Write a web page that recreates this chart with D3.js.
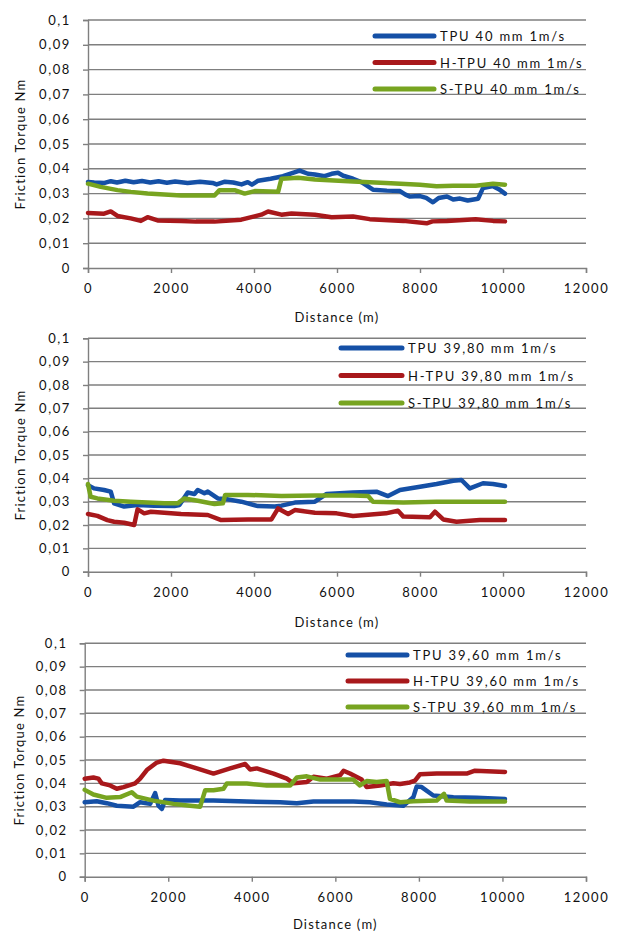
<!DOCTYPE html>
<html>
<head>
<meta charset="utf-8">
<script src="https://cdn.jsdelivr.net/npm/d3@7"></script>
<style>
  html, body { margin: 0; padding: 0; background: #fff; }
  svg text { font-family: Lato, "Open Sans", sans-serif; fill: #111; }
</style>
</head>
<body>
<svg id="chart" width="620" height="932"></svg>
<script>
// Friction torque vs sliding distance for three shaft diameters.
// Each series is a list of [distance (m), torque (Nm)] readings.

const xTicks = [0, 2000, 4000, 6000, 8000, 10000, 12000];
const yTicks = [0, 0.01, 0.02, 0.03, 0.04, 0.05, 0.06, 0.07, 0.08, 0.09, 0.1];
const seriesColors = ["#1550a6", "#a8181b", "#77a420"];
const xTitle = "Distance (m)";
const yTitle = "Friction Torque Nm";

// ---- 40 mm ----
const names40 = ["TPU 40 mm 1m/s", "H-TPU 40 mm 1m/s", "S-TPU 40 mm 1m/s"];
const tpu40 = [[0,0.0347],[150,0.0345],[400,0.0343],[550,0.0350],[700,0.0345],[900,0.0352],[1100,0.0346],[1300,0.0351],[1500,0.0345],[1700,0.0350],[1900,0.0344],[2100,0.0349],[2400,0.0343],[2700,0.0348],[3000,0.0343],[3100,0.0337],[3300,0.0348],[3500,0.0345],[3700,0.0337],[3850,0.0346],[3950,0.0336],[4100,0.0352],[4400,0.0360],[4700,0.0370],[4900,0.0382],[5100,0.0393],[5300,0.0380],[5468,0.0377],[5700,0.0370],[5871,0.0380],[6024,0.0384],[6150,0.0372],[6386,0.0360],[6600,0.0345],[6867,0.0316],[7200,0.0312],[7518,0.0310],[7650,0.0296],[7760,0.0288],[8000,0.0290],[8150,0.0283],[8313,0.0265],[8450,0.0282],[8650,0.0288],[8800,0.0276],[8964,0.0280],[9150,0.0272],[9398,0.0279],[9518,0.0322],[9759,0.0330],[9900,0.0318],[10048,0.0300]];
const htpu40 = [[0,0.0222],[387,0.0219],[548,0.0228],[710,0.0210],[1032,0.0200],[1274,0.0190],[1435,0.0205],[1677,0.0192],[2242,0.0190],[2600,0.0187],[3048,0.0187],[3693,0.0195],[4177,0.0215],[4339,0.0228],[4661,0.0215],[4903,0.0220],[5468,0.0215],[5871,0.0205],[6386,0.0208],[6788,0.0197],[7598,0.0190],[8160,0.0180],[8300,0.0188],[8650,0.0190],[9340,0.0197],[9759,0.0190],[10048,0.0188]];
const stpu40 = [[0,0.0340],[306,0.0327],[710,0.0314],[1032,0.0307],[1435,0.0300],[1839,0.0296],[2242,0.0292],[3048,0.0292],[3169,0.0314],[3532,0.0314],[3774,0.0300],[4016,0.0310],[4581,0.0307],[4661,0.0360],[5065,0.0364],[5468,0.0357],[6386,0.0349],[7180,0.0343],[8000,0.0336],[8400,0.0330],[8800,0.0332],[9340,0.0332],[9759,0.0340],[10048,0.0336]];

// ---- 39,80 mm ----
const names3980 = ["TPU 39,80 mm 1m/s", "H-TPU 39,80 mm 1m/s", "S-TPU 39,80 mm 1m/s"];
const tpu3980 = [[0,0.0371],[145,0.0357],[387,0.0350],[548,0.0343],[629,0.0293],[871,0.0279],[1194,0.0286],[1597,0.0283],[2081,0.0281],[2202,0.0286],[2403,0.0339],[2565,0.0333],[2645,0.0350],[2806,0.0336],[2887,0.0343],[3129,0.0314],[3371,0.0310],[3694,0.0300],[4097,0.0281],[4500,0.0279],[4661,0.0283],[4984,0.0296],[5468,0.0300],[5750,0.0333],[6386,0.0339],[6950,0.0343],[7230,0.0324],[7518,0.0350],[8000,0.0364],[8400,0.0376],[8800,0.0390],[9000,0.0393],[9200,0.0357],[9518,0.0379],[9759,0.0376],[10048,0.0367]];
const htpu3980 = [[0,0.0247],[226,0.0239],[467,0.0221],[629,0.0214],[871,0.0210],[1113,0.0200],[1194,0.0267],[1355,0.0250],[1516,0.0257],[2242,0.0247],[2887,0.0243],[3210,0.0221],[3855,0.0224],[4420,0.0224],[4581,0.0271],[4823,0.0247],[4984,0.0264],[5468,0.0253],[5990,0.0250],[6386,0.0239],[7180,0.0250],[7470,0.0261],[7598,0.0236],[8240,0.0233],[8360,0.0257],[8560,0.0224],[8880,0.0214],[9440,0.0221],[10048,0.0221]];
const stpu3980 = [[0,0.0376],[64,0.0321],[226,0.0314],[629,0.0304],[1032,0.0300],[1435,0.0297],[1839,0.0293],[2161,0.0293],[2323,0.0314],[2645,0.0304],[3048,0.0290],[3250,0.0293],[3306,0.0329],[3855,0.0329],[4661,0.0324],[5468,0.0326],[6386,0.0327],[6750,0.0324],[6867,0.0300],[7598,0.0297],[8400,0.0300],[9200,0.0300],[10048,0.0300]];

// ---- 39,60 mm ----
const names3960 = ["TPU 39,60 mm 1m/s", "H-TPU 39,60 mm 1m/s", "S-TPU 39,60 mm 1m/s"];
const tpu3960 = [[0,0.0319],[288,0.0323],[528,0.0315],[768,0.0304],[1167,0.0300],[1327,0.0319],[1567,0.0312],[1686,0.0358],[1766,0.0304],[1846,0.0290],[1926,0.0329],[2285,0.0326],[3083,0.0326],[3881,0.0322],[4679,0.0319],[5078,0.0315],[5477,0.0322],[6430,0.0322],[6829,0.0319],[7228,0.0309],[7627,0.0304],[7866,0.0340],[7946,0.0386],[8066,0.0384],[8345,0.0348],[8824,0.0340],[9383,0.0338],[10061,0.0333]];
const htpu3960 = [[0,0.0420],[208,0.0425],[328,0.0420],[408,0.0400],[608,0.0391],[768,0.0377],[928,0.0384],[1207,0.0400],[1327,0.0420],[1487,0.0457],[1726,0.0489],[1886,0.0497],[2285,0.0486],[2684,0.0464],[3083,0.0442],[3482,0.0464],[3841,0.0483],[3961,0.0459],[4120,0.0464],[4520,0.0442],[4839,0.0420],[4999,0.0400],[5318,0.0406],[5477,0.0428],[5797,0.0420],[6116,0.0435],[6196,0.0454],[6350,0.0442],[6629,0.0416],[6749,0.0384],[7068,0.0391],[7387,0.0400],[7547,0.0397],[7786,0.0404],[7906,0.0412],[8026,0.0439],[8425,0.0442],[8824,0.0442],[9143,0.0442],[9343,0.0454],[10061,0.0449]];
const stpu3960 = [[0,0.0372],[208,0.0352],[528,0.0338],[848,0.0341],[1127,0.0362],[1247,0.0343],[1646,0.0326],[2125,0.0312],[2524,0.0304],[2764,0.0300],[2883,0.0370],[3083,0.0370],[3322,0.0377],[3402,0.0399],[3881,0.0399],[4360,0.0391],[4919,0.0391],[5078,0.0425],[5318,0.0430],[5637,0.0416],[6430,0.0416],[6589,0.0391],[6749,0.0410],[6988,0.0406],[7228,0.0410],[7308,0.0333],[7547,0.0319],[7866,0.0323],[8425,0.0326],[8600,0.0355],[8664,0.0326],[9223,0.0322],[10061,0.0322]];

const svg = d3.select("#chart");

function drawPanel(cfg) {
  const x = d3.scaleLinear().domain([0, 12000]).range([cfg.left, cfg.right]);
  const y = d3.scaleLinear().domain([0, 0.1]).range([cfg.bottom, cfg.top]);
  const g = svg.append("g");

  // horizontal gridlines
  g.selectAll("line.grid").data(yTicks.slice(1)).join("line")
    .attr("x1", cfg.left).attr("x2", cfg.right)
    .attr("y1", d => y(d)).attr("y2", d => y(d))
    .attr("stroke", "#7f7f7f").attr("stroke-width", 1.4);

  const fmt = d => String(+d.toFixed(2)).replace(".", ",");

  const yAxis = g.append("g").attr("transform", `translate(${cfg.left},0)`)
    .call(d3.axisLeft(y).tickValues(yTicks).tickFormat(fmt).tickSize(5).tickPadding(12));
  const xAxis = g.append("g").attr("transform", `translate(0,${cfg.bottom})`)
    .call(d3.axisBottom(x).tickValues(xTicks).tickFormat(d3.format("d")).tickSize(5).tickPadding(11));
  [yAxis, xAxis].forEach(a => {
    a.select(".domain").attr("stroke", "#7f7f7f").attr("stroke-width", 1.4);
    a.selectAll(".tick line").attr("stroke", "#7f7f7f").attr("stroke-width", 1.4);
    a.selectAll("text").attr("font-family", "Lato, sans-serif").attr("font-size", 13)
      .attr("letter-spacing", "1.6px").attr("fill", "#111");
  });

  // axis titles
  g.append("text").attr("x", (cfg.left + cfg.right) / 2).attr("y", cfg.xTitleY)
    .attr("text-anchor", "middle").attr("font-size", 13).attr("letter-spacing", "1.2px")
    .text(xTitle);
  g.append("text")
    .attr("transform", `translate(${cfg.yTitleX},${(cfg.top + cfg.bottom) / 2}) rotate(-90)`)
    .attr("text-anchor", "middle").attr("dominant-baseline", "central")
    .attr("font-size", 13).attr("letter-spacing", "1.2px")
    .text(yTitle);

  // series lines
  const line = d3.line().x(d => x(d[0])).y(d => y(d[1]));
  cfg.series.forEach((s, i) => {
    g.append("path").datum(s)
      .attr("fill", "none").attr("stroke", seriesColors[i])
      .attr("stroke-width", 4.5).attr("stroke-linejoin", "round").attr("stroke-linecap", "round")
      .attr("d", line);
  });

  // legend
  cfg.names.forEach((n, i) => {
    const ly = cfg.legY + i * cfg.legStep;
    g.append("line").attr("x1", cfg.legX1).attr("x2", cfg.legX2).attr("y1", ly).attr("y2", ly)
      .attr("stroke", seriesColors[i]).attr("stroke-width", 5).attr("stroke-linecap", "round");
    g.append("text").attr("x", cfg.legX2 + 6).attr("y", ly).attr("dominant-baseline", "central")
      .attr("font-size", 13).attr("letter-spacing", "1.8px").text(n);
  });
}

drawPanel({ left: 88, right: 586, top: 20, bottom: 268, xTitleY: 322, yTitleX: 20,
  series: [tpu40, htpu40, stpu40], names: names40,
  legX1: 375, legX2: 434, legY: 36, legStep: 26.5 });
drawPanel({ left: 88, right: 586, top: 338.3, bottom: 571.7, xTitleY: 627, yTitleX: 20,
  series: [tpu3980, htpu3980, stpu3980], names: names3980,
  legX1: 341, legX2: 402, legY: 348, legStep: 27.5 });
drawPanel({ left: 84.7, right: 586, top: 643.3, bottom: 876.7, xTitleY: 929, yTitleX: 19,
  series: [tpu3960, htpu3960, stpu3960], names: names3960,
  legX1: 348, legX2: 407, legY: 655, legStep: 26 });
</script>
</body>
</html>
